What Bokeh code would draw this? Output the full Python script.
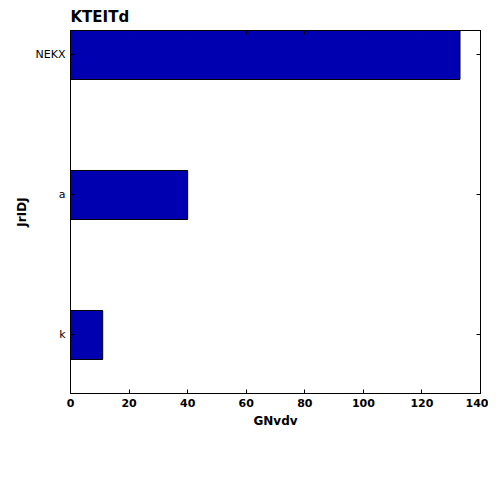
from bokeh.plotting import figure
from bokeh.models import ColumnDataSource, Legend, LegendItem, LinearAxis, FixedTicker
from bokeh.embed import file_html
from bokeh.resources import INLINE

categories = ["k", "a", "NEKX"]
values = [11, 40, 133]
positions = [0, 1, 2]
x_ticks = [0, 20, 40, 60, 80, 100, 120, 140]

FONT = "DejaVu Sans"

source = ColumnDataSource(data=dict(y=positions, v=values))

p = figure(frame_width=410, frame_height=363, x_range=(0, 140), y_range=(-0.418, 2.175),
           output_backend="svg", toolbar_location=None, title="KTEITd",
           min_border_left=70, min_border_right=8, min_border_top=14, min_border_bottom=4)

r = p.hbar(y="y", right="v", left=0, height=0.35, source=source,
           fill_color="#0000b0", line_color="black", line_width=1)

p.title.text_font = FONT
p.title.text_font_size = "15px"
p.title.text_font_style = "bold"
p.title.text_color = "black"
p.title.offset = 0

p.xgrid.grid_line_color = None
p.ygrid.grid_line_color = None
p.outline_line_color = "black"
p.outline_line_width = 1

p.xaxis.ticker = FixedTicker(ticks=x_ticks)
p.yaxis.ticker = FixedTicker(ticks=positions)
p.yaxis.major_label_overrides = {i: c for i, c in zip(positions, categories)}
p.xaxis.axis_label = "GNvdv"
p.yaxis.axis_label = "JrIDJ"

for ax in (p.xaxis, p.yaxis):
    ax.major_tick_in = 4
    ax.major_tick_out = 0
    ax.minor_tick_line_color = None
    ax.axis_line_color = "black"
    ax.major_label_text_font = FONT
    ax.major_label_text_font_size = "11px"
    ax.major_label_text_color = "black"
    ax.axis_label_text_font = FONT
    ax.axis_label_text_font_size = "12px"
    ax.axis_label_text_font_style = "bold"
    ax.axis_label_text_color = "black"
    ax.axis_label_standoff = 4
p.xaxis.major_label_text_font_style = "bold"

right = LinearAxis(ticker=FixedTicker(ticks=positions),
                   major_label_overrides={i: "" for i in positions},
                   major_tick_in=4, major_tick_out=0, minor_tick_line_color=None)
top = LinearAxis(ticker=FixedTicker(ticks=x_ticks),
                 major_label_overrides={i: "" for i in x_ticks},
                 major_tick_in=4, major_tick_out=0, minor_tick_line_color=None)
p.add_layout(right, "right")
p.add_layout(top, "above")

legend = Legend(items=[LegendItem(label="wT un", renderers=[r])], orientation="horizontal",
                location="center", border_line_color="black", label_text_font=FONT,
                label_text_font_size="12px", label_text_font_style="bold",
                label_text_color="black",
                glyph_width=30, glyph_height=12, margin=10, padding=6)
p.add_layout(legend, "below")

open("out.html", "w").write(file_html(p, INLINE))
